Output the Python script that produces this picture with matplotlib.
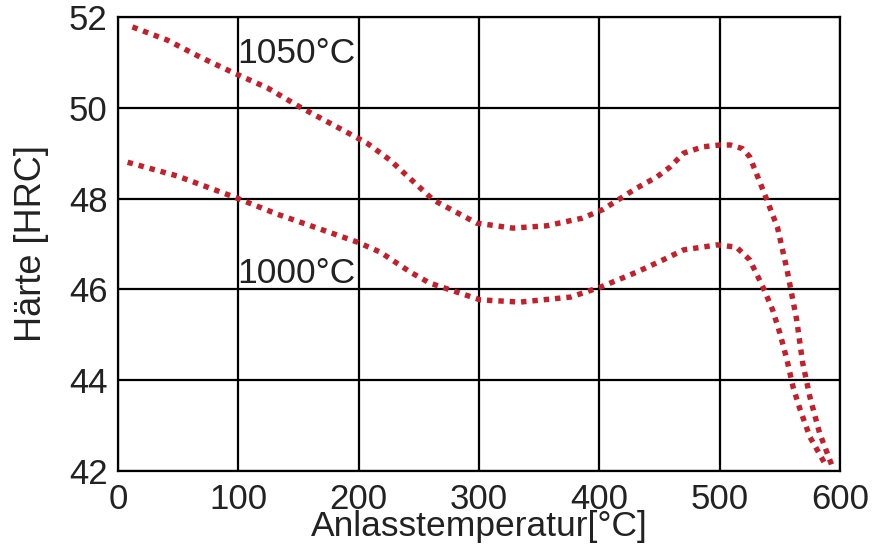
import matplotlib

matplotlib.use("Agg")
import matplotlib.pyplot as plt  # noqa: E402

plt.rcParams["font.family"] = ["Liberation Sans", "DejaVu Sans"]

# Anlasskurven
temp_1050 = [12, 41, 68, 96, 124, 151, 179, 207, 226, 262, 298, 328, 356, 386,
             403, 431, 448, 459, 470, 486, 500, 509, 519, 525, 536, 548, 556,
             564, 569, 575, 583, 594]
hrc_1050 = [51.78, 51.49, 51.12, 50.77, 50.44, 50.02, 49.62, 49.22, 48.85, 47.97,
            47.46, 47.35, 47.40, 47.57, 47.76, 48.23, 48.48, 48.70, 49.00, 49.14,
            49.18, 49.18, 49.10, 48.92, 48.19, 47.37, 46.43, 45.33, 44.38, 43.63,
            42.84, 42.07]

temp_1000 = [8, 49, 96, 132, 170, 199, 218, 243, 259, 301, 334, 376, 401, 431,
             453, 470, 498, 514, 525, 536, 544, 550, 556, 561, 567, 575, 589]
hrc_1000 = [48.80, 48.50, 48.04, 47.66, 47.31, 47.04, 46.82, 46.38, 46.14, 45.77,
            45.72, 45.83, 46.05, 46.38, 46.65, 46.87, 46.98, 46.93, 46.65, 46.05,
            45.55, 45.04, 44.44, 43.85, 43.34, 42.75, 42.09]

curve_labels = ["1050°C", "1000°C"]
label_pos = [(99, 50.99), (99, 46.14)]

x_ticks = [0, 100, 200, 300, 400, 500, 600]
y_ticks = [42, 44, 46, 48, 50, 52]

RED = "#c41f2b"
TXT = "#222222"

fig = plt.figure(figsize=(8.76, 5.44), dpi=100)
ax = fig.add_axes([0.1347, 0.1342, 0.8242, 0.8346])

for t, h in [(temp_1050, hrc_1050), (temp_1000, hrc_1000)]:
    ax.plot(t, h, color=RED, lw=3.9, linestyle=(0, (1, 1.1)),
            dash_capstyle="butt", zorder=3, clip_on=False)

for txt, (x, y) in zip(curve_labels, label_pos):
    ax.text(x, y, txt, fontsize=25.5, color=TXT, ha="left", va="baseline")

ax.set_xlim(0, 600)
ax.set_ylim(42, 52)
ax.set_xticks(x_ticks)
ax.set_yticks(y_ticks)
ax.tick_params(length=0, labelsize=25, colors=TXT)
ax.tick_params(axis="x", pad=9)
ax.tick_params(axis="y", pad=7.5)
ax.grid(True, color="black", lw=1.6)
ax.set_axisbelow(True)
for s in ax.spines.values():
    s.set_color("black")
    s.set_linewidth(1.6)

ax.set_xlabel("Anlasstemperatur[°C]", fontsize=25.5, color=TXT, labelpad=-5)
ax.set_ylabel("Härte [HRC]", fontsize=26, color=TXT, labelpad=14)

fig.savefig("out.png", dpi=100)
